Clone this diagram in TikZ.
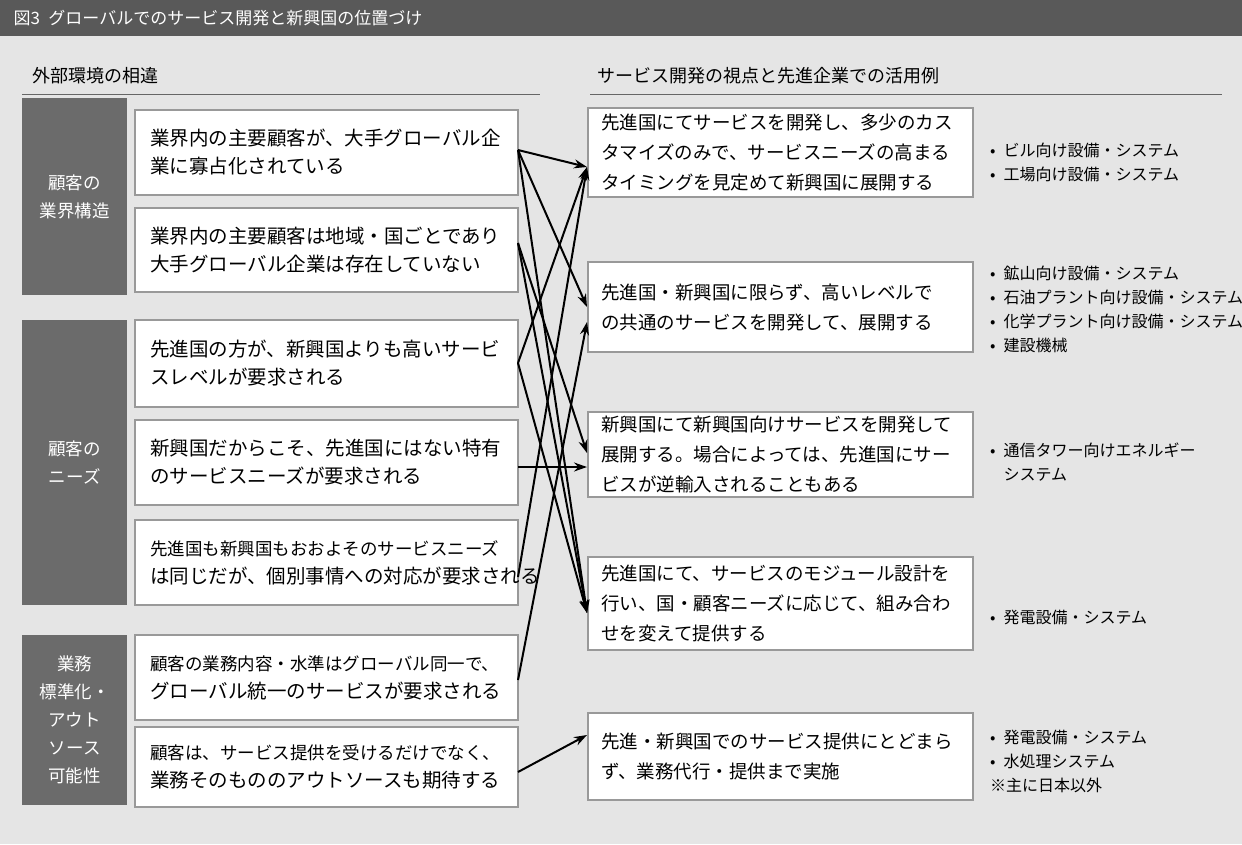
\documentclass[tikz,border=0pt]{standalone}
\usepackage{fontspec}
\usetikzlibrary{arrows.meta}
\setmainfont{Noto Sans CJK JP}
\begin{document}
\begin{tikzpicture}[x=1pt,y=-1pt,
  cat/.style={fill=black!58,text=white,anchor=north west,minimum width=105,align=center,inner sep=0pt,font=\fontsize{17.5}{28}\selectfont},
  arr/.style={-{Stealth[length=13pt,width=9pt]},line width=2pt},
  bl/.style={anchor=north west,align=left,font=\fontsize{16}{24}\selectfont,inner sep=0pt}]
\useasboundingbox (0,0) rectangle (1242,844);
\fill[black!10] (0,0) rectangle (1242,844);
\fill[black!65] (0,0) rectangle (1242,36);
\node[anchor=west,text=white,font=\fontsize{17}{20}\selectfont] (title) at (10,18) {図3\enspace グローバルでのサービス開発と新興国の位置づけ};
\node[anchor=west,font=\fontsize{18}{20}\selectfont,inner sep=0pt] (hl) at (32,76) {外部環境の相違};
\node[anchor=west,font=\fontsize{18}{20}\selectfont,inner sep=0pt] (hr) at (597,76) {サービス開発の視点と先進企業での活用例};
\draw[black!60,line width=0.8pt] (22,94) -- (540,94) (590,94) -- (1222,94);
% categories
\node[cat,minimum height=197] (c1) at (22,98) {顧客の\\業界構造};
\node[cat,minimum height=285] (c2) at (22,320) {顧客の\\ニーズ};
\node[cat,minimum height=170] (c3) at (22,635) {業務\\標準化・\\アウト\\ソース\\可能性};
% left boxes
\newcommand{\lb}[4]{\draw[gray!80,line width=1.5pt,fill=white] (135,#2) rectangle (518,#3);
  \node[anchor=west,align=left,font=\fontsize{19.5}{28}\selectfont,inner sep=0pt] (#1) at (150,{(#2+#3)/2}) {#4};}
\lb{l1}{110}{195}{業界内の主要顧客が、大手グローバル企\\業に寡占化されている}
\lb{l2}{208}{292}{業界内の主要顧客は地域・国ごとであり\\大手グローバル企業は存在していない}
\lb{l3}{320}{407}{先進国の方が、新興国よりも高いサービ\\スレベルが要求される}
\lb{l4}{420}{505}{新興国だからこそ、先進国にはない特有\\のサービスニーズが要求される}
\lb{l5}{520}{605}{\fontsize{17.5}{28}\selectfont 先進国も新興国もおおよそのサービスニーズ\\は同じだが、個別事情への対応が要求される}
\lb{l6}{635}{720}{\fontsize{17.5}{28}\selectfont 顧客の業務内容・水準はグローバル同一で、\\グローバル統一のサービスが要求される}
\lb{l7}{727}{807}{\fontsize{17.5}{28}\selectfont 顧客は、サービス提供を受けるだけでなく、\\業務そのもののアウトソースも期待する}
% right boxes
\newcommand{\rb}[4]{\draw[gray!80,line width=1.5pt,fill=white] (588,#2) rectangle (973,#3);
  \node[anchor=west,align=left,font=\fontsize{18.5}{30}\selectfont,inner sep=0pt] (#1) at (601,{(#2+#3)/2}) {#4};}
\rb{r1}{108}{197}{先進国にてサービスを開発し、多少のカス\\タマイズのみで、サービスニーズの高まる\\タイミングを見定めて新興国に展開する}
\rb{r2}{262}{352}{先進国・新興国に限らず、高いレベルで\\の共通のサービスを開発して、展開する}
\rb{r3}{412}{497}{新興国にて新興国向けサービスを開発して\\展開する。場合によっては、先進国にサー\\ビスが逆輸入されることもある}
\rb{r4}{557}{650}{先進国にて、サービスのモジュール設計を\\行い、国・顧客ニーズに応じて、組み合わ\\せを変えて提供する}
\rb{r5}{713}{800}{先進・新興国でのサービス提供にとどまら\\ず、業務代行・提供まで実施}
% anchors
\coordinate (s1) at (518,150); \coordinate (s2) at (518,243);
\coordinate (s3) at (518,363); \coordinate (s4) at (518,467);
\coordinate (s5) at (518,577); \coordinate (s6) at (518,680);
\coordinate (s7) at (518,772);
\coordinate (t1) at (587,167); \coordinate (t2a) at (587,307);
\coordinate (t2b) at (587,322); \coordinate (t3a) at (587,453);
\coordinate (t3b) at (587,467); \coordinate (t4) at (587,613);
\coordinate (t5) at (587,735);
\draw[arr] (s1) -- (t1);
\draw[arr] (s1) -- (t2a);
\draw[arr] (s1) -- (t4);
\draw[arr] (s2) -- (t3a);
\draw[arr] (s2) -- (t4);
\draw[arr] (s3) -- (t1);
\draw[arr] (s3) -- (t4);
\draw[arr] (s4) -- (t3b);
\draw[arr] (s5) -- (t1);
\draw[arr] (s6) -- (t2b);
\draw[arr] (s7) -- (t5);
% bullets
\node[bl] (b1) at (990,143) {•\enspace ビル向け設備・システム\\•\enspace 工場向け設備・システム};
\node[bl] (b2) at (990,266) {•\enspace 鉱山向け設備・システム\\•\enspace 石油プラント向け設備・システム\\•\enspace 化学プラント向け設備・システム\\•\enspace 建設機械};
\node[bl] (b3) at (990,443) {•\enspace 通信タワー向けエネルギー\\\phantom{•\enspace }システム};
\node[bl] (b4) at (990,610) {•\enspace 発電設備・システム};
\node[bl] (b5) at (990,730) {•\enspace 発電設備・システム\\•\enspace 水処理システム\\※主に日本以外};
\end{tikzpicture}
\end{document}
